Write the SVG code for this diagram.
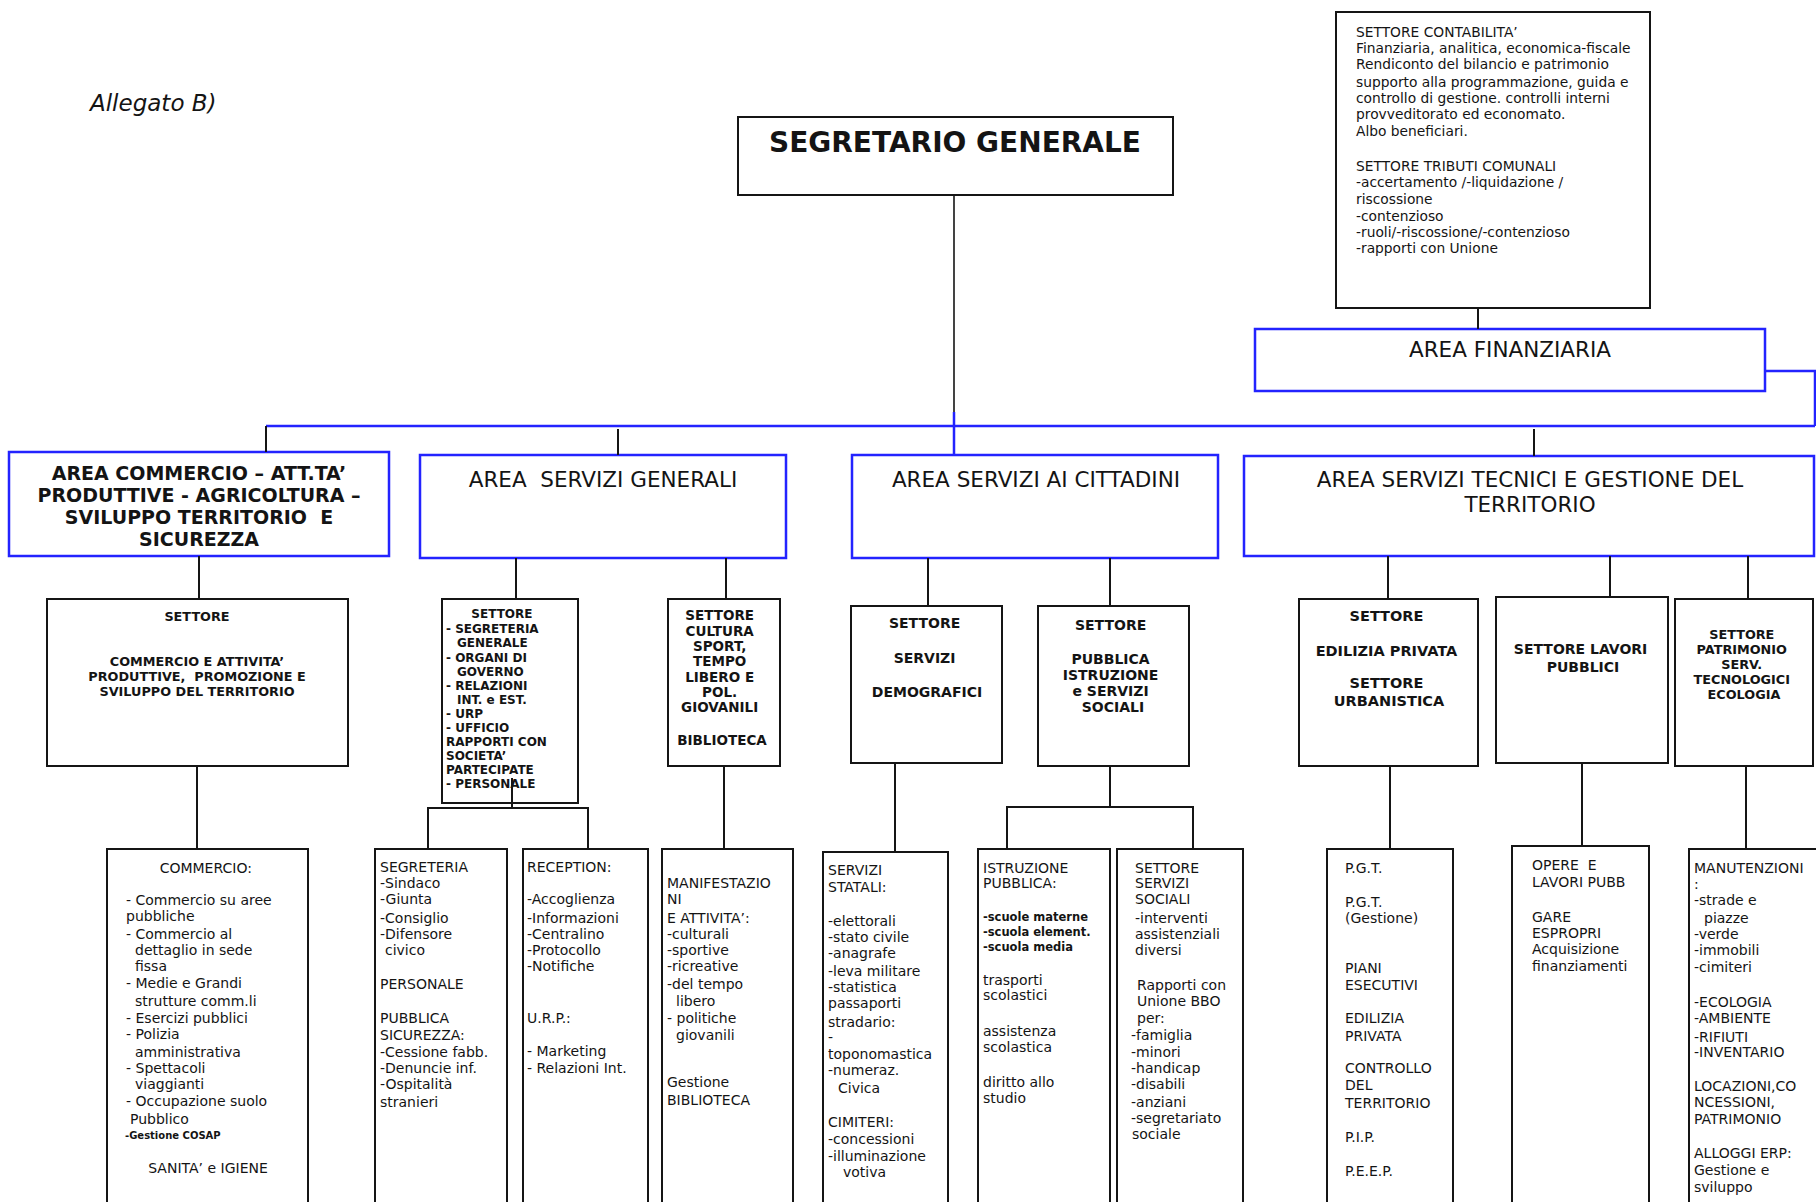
<svg xmlns="http://www.w3.org/2000/svg" width="1816" height="1202" viewBox="0 0 1816 1202">
<style>
.box{fill:#fff;stroke:#151515;stroke-width:2}
.abox{fill:#fff;stroke:#2323ff;stroke-width:2.5}
.ln{stroke:#151515;stroke-width:2;fill:none}
.bl{stroke:#2323ff;stroke-width:2.5;fill:none}
text{font-family:"DejaVu Sans","Liberation Sans",sans-serif;fill:#141414}
.at{font-size:21.5px;text-anchor:middle}
.ab{font-size:19px;font-weight:bold;text-anchor:middle}
.s{font-size:14px}
.c{font-size:13.8px}
.m{text-anchor:middle}
.b{font-weight:bold}
</style>
<rect width="1816" height="1202" fill="#fff"/>
<text x="90" y="111" style="font-size:23px;font-style:italic">Allegato B)</text>

<g id="segretario">
<rect class="box" x="738" y="117" width="435" height="78"/>
<text x="955" y="152" class="m b" style="font-size:28px">SEGRETARIO GENERALE</text>
</g>

<g id="contabilita">
<rect class="box" x="1336" y="12" width="314" height="296"/>
<text class="c" x="1356">
<tspan x="1356" y="37">SETTORE CONTABILITA’</tspan>
<tspan x="1356" y="53">Finanziaria, analitica, economica-fiscale</tspan>
<tspan x="1356" y="69">Rendiconto del bilancio e patrimonio</tspan>
<tspan x="1356" y="87">supporto alla programmazione, guida e</tspan>
<tspan x="1356" y="103">controllo di gestione. controlli interni</tspan>
<tspan x="1356" y="119">provveditorato ed economato.</tspan>
<tspan x="1356" y="136">Albo beneficiari.</tspan>
<tspan x="1356" y="171">SETTORE TRIBUTI COMUNALI</tspan>
<tspan x="1356" y="187">-accertamento /-liquidazione /</tspan>
<tspan x="1356" y="204">riscossione</tspan>
<tspan x="1356" y="221">-contenzioso</tspan>
<tspan x="1356" y="237">-ruoli/-riscossione/-contenzioso</tspan>
<tspan x="1356" y="253">-rapporti con Unione</tspan>
</text>
</g>

<g id="area-finanziaria">
<rect class="abox" x="1255" y="329" width="510" height="62"/>
<text class="at" x="1510" y="357">AREA FINANZIARIA</text>
</g>

<g id="area-commercio">
<rect class="abox" x="9" y="452" width="380" height="104"/>
<text class="ab" xml:space="preserve"><tspan x="199" y="480">AREA COMMERCIO – ATT.TA’</tspan><tspan x="199" y="502">PRODUTTIVE - AGRICOLTURA –</tspan><tspan x="199" y="524">SVILUPPO TERRITORIO  E</tspan><tspan x="199" y="546">SICUREZZA</tspan></text>
</g>

<g id="area-generali">
<rect class="abox" x="420" y="455" width="366" height="103"/>
<text class="at" x="603" y="487" xml:space="preserve">AREA  SERVIZI GENERALI</text>
</g>

<g id="area-cittadini">
<rect class="abox" x="852" y="455" width="366" height="103"/>
<text class="at" x="1036" y="487">AREA SERVIZI AI CITTADINI</text>
</g>

<g id="area-tecnici">
<rect class="abox" x="1244" y="456" width="570" height="100"/>
<text class="at"><tspan x="1530" y="487">AREA SERVIZI TECNICI E GESTIONE DEL</tspan><tspan x="1530" y="512">TERRITORIO</tspan></text>
</g>

<g id="settore-commercio">
<rect class="box" x="47" y="599" width="301" height="167"/>
<text class="m b" style="font-size:12.8px" xml:space="preserve"><tspan x="197" y="621">SETTORE</tspan><tspan x="197" y="666">COMMERCIO E ATTIVITA’</tspan><tspan x="197" y="681">PRODUTTIVE,  PROMOZIONE E</tspan><tspan x="197" y="696">SVILUPPO DEL TERRITORIO</tspan></text>
</g>

<g id="commercio">
<rect class="box" x="107" y="849" width="201" height="370"/>
<text class="s">
<tspan x="208" y="873" text-anchor="middle">COMMERCIO:</tspan>
<tspan x="126" y="905">- Commercio su aree</tspan>
<tspan x="126" y="921">pubbliche</tspan>
<tspan x="126" y="939">- Commercio al</tspan>
<tspan x="135" y="955">dettaglio in sede</tspan>
<tspan x="135" y="971">fissa</tspan>
<tspan x="126" y="988">- Medie e Grandi</tspan>
<tspan x="135" y="1006">strutture comm.li</tspan>
<tspan x="126" y="1023">- Esercizi pubblici</tspan>
<tspan x="126" y="1039">- Polizia</tspan>
<tspan x="135" y="1057">amministrativa</tspan>
<tspan x="126" y="1073">- Spettacoli</tspan>
<tspan x="135" y="1089">viaggianti</tspan>
<tspan x="126" y="1106">- Occupazione suolo</tspan>
<tspan x="130" y="1124">Pubblico</tspan>
<tspan x="125" y="1139" style="font-size:10px;font-weight:bold">-Gestione COSAP</tspan>
<tspan x="208" y="1173" text-anchor="middle">SANITA’ e IGIENE</tspan>
</text>
</g>

<g id="settore-segreteria">
<rect class="box" x="442" y="599" width="136" height="204"/>
<text class="b" style="font-size:12px">
<tspan x="504" y="618" text-anchor="middle">SETTORE</tspan>
<tspan x="446" y="633">- SEGRETERIA</tspan>
<tspan x="457" y="647">GENERALE</tspan>
<tspan x="446" y="662">- ORGANI DI</tspan>
<tspan x="457" y="676">GOVERNO</tspan>
<tspan x="446" y="690">- RELAZIONI</tspan>
<tspan x="457" y="704">INT. e EST.</tspan>
<tspan x="446" y="718">- URP</tspan>
<tspan x="446" y="732">- UFFICIO</tspan>
<tspan x="446" y="746">RAPPORTI CON</tspan>
<tspan x="446" y="760">SOCIETA’</tspan>
<tspan x="446" y="774">PARTECIPATE</tspan>
<tspan x="446" y="788">- PERSONALE</tspan>
</text>
</g>

<g id="segreteria">
<rect class="box" x="375" y="849" width="132" height="370"/>
<text class="s">
<tspan x="380" y="872">SEGRETERIA</tspan>
<tspan x="380" y="888">-Sindaco</tspan>
<tspan x="380" y="904">-Giunta</tspan>
<tspan x="380" y="923">-Consiglio</tspan>
<tspan x="380" y="939">-Difensore</tspan>
<tspan x="385" y="955">civico</tspan>
<tspan x="380" y="989">PERSONALE</tspan>
<tspan x="380" y="1023">PUBBLICA</tspan>
<tspan x="380" y="1040">SICUREZZA:</tspan>
<tspan x="380" y="1057">-Cessione fabb.</tspan>
<tspan x="380" y="1073">-Denuncie inf.</tspan>
<tspan x="380" y="1089">-Ospitalità</tspan>
<tspan x="380" y="1107">stranieri</tspan>
</text>
</g>

<g id="reception">
<rect class="box" x="523" y="849" width="125" height="370"/>
<text class="s">
<tspan x="527" y="872">RECEPTION:</tspan>
<tspan x="527" y="904">-Accoglienza</tspan>
<tspan x="527" y="923">-Informazioni</tspan>
<tspan x="527" y="939">-Centralino</tspan>
<tspan x="527" y="955">-Protocollo</tspan>
<tspan x="527" y="971">-Notifiche</tspan>
<tspan x="527" y="1023">U.R.P.:</tspan>
<tspan x="527" y="1056">- Marketing</tspan>
<tspan x="527" y="1073">- Relazioni Int.</tspan>
</text>
</g>

<g id="settore-cultura">
<rect class="box" x="668" y="599" width="112" height="167"/>
<text class="m b" style="font-size:13.5px">
<tspan x="722" y="620">SETTORE</tspan>
<tspan x="722" y="636">CULTURA</tspan>
<tspan x="722" y="651">SPORT,</tspan>
<tspan x="722" y="666">TEMPO</tspan>
<tspan x="722" y="682">LIBERO E</tspan>
<tspan x="722" y="697">POL.</tspan>
<tspan x="722" y="712">GIOVANILI</tspan>
<tspan x="722" y="745">BIBLIOTECA</tspan>
</text>
</g>

<g id="manifestazioni">
<rect class="box" x="662" y="849" width="131" height="370"/>
<text class="s">
<tspan x="667" y="888">MANIFESTAZIO</tspan>
<tspan x="667" y="904">NI</tspan>
<tspan x="667" y="923">E ATTIVITA’:</tspan>
<tspan x="667" y="939">-culturali</tspan>
<tspan x="667" y="955">-sportive</tspan>
<tspan x="667" y="971">-ricreative</tspan>
<tspan x="667" y="989">-del tempo</tspan>
<tspan x="676" y="1006">libero</tspan>
<tspan x="667" y="1023">- politiche</tspan>
<tspan x="676" y="1040">giovanili</tspan>
<tspan x="667" y="1087">Gestione</tspan>
<tspan x="667" y="1105">BIBLIOTECA</tspan>
</text>
</g>

<g id="settore-demografici">
<rect class="box" x="851" y="606" width="151" height="157"/>
<text class="m b" style="font-size:14px">
<tspan x="927" y="628">SETTORE</tspan>
<tspan x="927" y="663">SERVIZI</tspan>
<tspan x="927" y="697">DEMOGRAFICI</tspan>
</text>
</g>

<g id="servizi-statali">
<rect class="box" x="823" y="852" width="125" height="370"/>
<text class="s">
<tspan x="828" y="875">SERVIZI</tspan>
<tspan x="828" y="892">STATALI:</tspan>
<tspan x="828" y="926">-elettorali</tspan>
<tspan x="828" y="942">-stato civile</tspan>
<tspan x="828" y="958">-anagrafe</tspan>
<tspan x="828" y="976">-leva militare</tspan>
<tspan x="828" y="992">-statistica</tspan>
<tspan x="828" y="1008">passaporti</tspan>
<tspan x="828" y="1027">stradario:</tspan>
<tspan x="828" y="1042">-</tspan>
<tspan x="828" y="1059">toponomastica</tspan>
<tspan x="828" y="1075">-numeraz.</tspan>
<tspan x="838" y="1093">Civica</tspan>
<tspan x="828" y="1127">CIMITERI:</tspan>
<tspan x="828" y="1144">-concessioni</tspan>
<tspan x="828" y="1161">-illuminazione</tspan>
<tspan x="843" y="1177">votiva</tspan>
</text>
</g>

<g id="settore-istruzione">
<rect class="box" x="1038" y="606" width="151" height="160"/>
<text class="m b" style="font-size:14px">
<tspan x="1113" y="630">SETTORE</tspan>
<tspan x="1113" y="664">PUBBLICA</tspan>
<tspan x="1113" y="680">ISTRUZIONE</tspan>
<tspan x="1113" y="696">e SERVIZI</tspan>
<tspan x="1113" y="712">SOCIALI</tspan>
</text>
</g>

<g id="istruzione">
<rect class="box" x="978" y="849" width="132" height="370"/>
<text class="s">
<tspan x="983" y="873">ISTRUZIONE</tspan>
<tspan x="983" y="888">PUBBLICA:</tspan>
<tspan x="983" y="921" style="font-size:11.5px;font-weight:bold">-scuole materne</tspan>
<tspan x="983" y="936" style="font-size:11.5px;font-weight:bold">-scuola element.</tspan>
<tspan x="983" y="951" style="font-size:11.5px;font-weight:bold">-scuola media</tspan>
<tspan x="983" y="985">trasporti</tspan>
<tspan x="983" y="1000">scolastici</tspan>
<tspan x="983" y="1036">assistenza</tspan>
<tspan x="983" y="1052">scolastica</tspan>
<tspan x="983" y="1087">diritto allo</tspan>
<tspan x="983" y="1103">studio</tspan>
</text>
</g>

<g id="servizi-sociali">
<rect class="box" x="1117" y="849" width="126" height="370"/>
<text class="s">
<tspan x="1135" y="873">SETTORE</tspan>
<tspan x="1135" y="888">SERVIZI</tspan>
<tspan x="1135" y="904">SOCIALI</tspan>
<tspan x="1135" y="923">-interventi</tspan>
<tspan x="1135" y="939">assistenziali</tspan>
<tspan x="1135" y="955">diversi</tspan>
<tspan x="1137" y="990">Rapporti con</tspan>
<tspan x="1137" y="1006">Unione BBO</tspan>
<tspan x="1137" y="1023">per:</tspan>
<tspan x="1131" y="1040">-famiglia</tspan>
<tspan x="1131" y="1057">-minori</tspan>
<tspan x="1131" y="1073">-handicap</tspan>
<tspan x="1131" y="1089">-disabili</tspan>
<tspan x="1131" y="1107">-anziani</tspan>
<tspan x="1131" y="1123">-segretariato</tspan>
<tspan x="1132" y="1139">sociale</tspan>
</text>
</g>

<g id="settore-edilizia">
<rect class="box" x="1299" y="599" width="179" height="167"/>
<text class="m b" style="font-size:14.5px">
<tspan x="1389" y="621">SETTORE</tspan>
<tspan x="1389" y="656">EDILIZIA PRIVATA</tspan>
<tspan x="1389" y="688">SETTORE</tspan>
<tspan x="1389" y="706">URBANISTICA</tspan>
</text>
</g>

<g id="pgt">
<rect class="box" x="1327" y="849" width="126" height="370"/>
<text class="s">
<tspan x="1345" y="873">P.G.T.</tspan>
<tspan x="1345" y="907">P.G.T.</tspan>
<tspan x="1345" y="923">(Gestione)</tspan>
<tspan x="1345" y="973">PIANI</tspan>
<tspan x="1345" y="990">ESECUTIVI</tspan>
<tspan x="1345" y="1023">EDILIZIA</tspan>
<tspan x="1345" y="1041">PRIVATA</tspan>
<tspan x="1345" y="1073">CONTROLLO</tspan>
<tspan x="1345" y="1090">DEL</tspan>
<tspan x="1345" y="1108">TERRITORIO</tspan>
<tspan x="1345" y="1142">P.I.P.</tspan>
<tspan x="1345" y="1176">P.E.E.P.</tspan>
</text>
</g>

<g id="settore-lavori">
<rect class="box" x="1496" y="597" width="172" height="166"/>
<text class="m b" style="font-size:14px">
<tspan x="1583" y="654">SETTORE LAVORI</tspan>
<tspan x="1583" y="672">PUBBLICI</tspan>
</text>
</g>

<g id="opere">
<rect class="box" x="1512" y="846" width="137" height="373"/>
<text class="s" xml:space="preserve"><tspan x="1532" y="870">OPERE  E</tspan><tspan x="1532" y="887">LAVORI PUBB</tspan><tspan x="1532" y="922">GARE</tspan><tspan x="1532" y="938">ESPROPRI</tspan><tspan x="1532" y="954">Acquisizione</tspan><tspan x="1532" y="971">finanziamenti</tspan></text>
</g>

<g id="settore-patrimonio">
<rect class="box" x="1675" y="599" width="138" height="167"/>
<text class="m b" style="font-size:12.8px">
<tspan x="1744" y="639">SETTORE</tspan>
<tspan x="1744" y="654">PATRIMONIO</tspan>
<tspan x="1744" y="669">SERV.</tspan>
<tspan x="1744" y="684">TECNOLOGICI</tspan>
<tspan x="1744" y="699">ECOLOGIA</tspan>
</text>
</g>

<g id="manutenzioni">
<rect class="box" x="1689" y="849" width="160" height="370"/>
<text class="s">
<tspan x="1694" y="873">MANUTENZIONI</tspan>
<tspan x="1694" y="889">:</tspan>
<tspan x="1694" y="905">-strade e</tspan>
<tspan x="1704" y="923">piazze</tspan>
<tspan x="1694" y="939">-verde</tspan>
<tspan x="1694" y="955">-immobili</tspan>
<tspan x="1694" y="972">-cimiteri</tspan>
<tspan x="1694" y="1007">-ECOLOGIA</tspan>
<tspan x="1694" y="1023">-AMBIENTE</tspan>
<tspan x="1694" y="1042">-RIFIUTI</tspan>
<tspan x="1694" y="1057">-INVENTARIO</tspan>
<tspan x="1694" y="1091">LOCAZIONI,CO</tspan>
<tspan x="1694" y="1107">NCESSIONI,</tspan>
<tspan x="1694" y="1124">PATRIMONIO</tspan>
<tspan x="1694" y="1158">ALLOGGI ERP:</tspan>
<tspan x="1694" y="1175">Gestione e</tspan>
<tspan x="1694" y="1192">sviluppo</tspan>
</text>
</g>

<g id="connectors">
<path class="ln" style="stroke-width:1.6" d="M954,195 V412"/>
<path class="bl" d="M954,412 V455"/>
<path class="bl" d="M266,426 H1815"/>
<path class="bl" d="M1765,371 H1815 V426"/>
<path class="ln" d="M1478,308 V329"/>
<path class="ln" d="M266,426 V452"/>
<path class="ln" d="M618,429 V455"/>
<path class="ln" d="M1534,429 V456"/>
<path class="ln" d="M199,556 V599"/>
<path class="ln" d="M197,766 V849"/>
<path class="ln" d="M516,558 V599"/>
<path class="ln" d="M512,778 V808"/>
<path class="ln" d="M428,849 V808 H588 V849"/>
<path class="ln" d="M726,558 V599"/>
<path class="ln" d="M724,766 V849"/>
<path class="ln" d="M928,558 V606"/>
<path class="ln" d="M895,763 V852"/>
<path class="ln" d="M1110,558 V606"/>
<path class="ln" d="M1110,766 V807"/>
<path class="ln" d="M1007,849 V807 H1193 V849"/>
<path class="ln" d="M1388,556 V599"/>
<path class="ln" d="M1390,766 V849"/>
<path class="ln" d="M1610,556 V597"/>
<path class="ln" d="M1582,763 V846"/>
<path class="ln" d="M1748,556 V599"/>
<path class="ln" d="M1746,766 V849"/>
</g>
</svg>
